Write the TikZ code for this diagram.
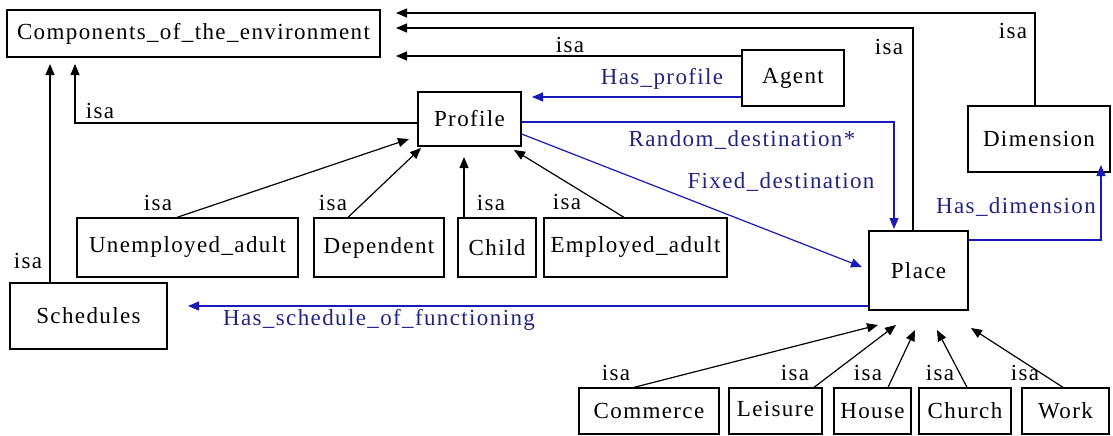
\documentclass[tikz,border=0pt]{standalone}
\usepackage{fontspec}
\setmainfont{Liberation Serif}[LetterSpace=6]
\usetikzlibrary{arrows.meta}
\definecolor{lnblue}{RGB}{25,25,185}
\definecolor{txblue}{RGB}{35,35,130}
\begin{document}
\begin{tikzpicture}[x=1pt,y=-1pt,
  every node/.style={font=\fontsize{23}{27}\selectfont},
  box/.style={draw, line width=1.3pt, inner sep=0pt, anchor=center},
  isaline/.style={line width=1.2pt, -{Triangle[length=11pt,width=9pt]}},
  relline/.style={lnblue, line width=1.2pt, -{Triangle[length=11pt,width=9pt]}},
  lbl/.style={inner sep=0pt, anchor=center},
  rlbl/.style={inner sep=0pt, anchor=center, text=txblue}]
\useasboundingbox (0,0) rectangle (1113,436);
% boxes
\node[box, minimum width=373pt, minimum height=47pt] (comp) at (193.5,33.5) {Components\_of\_the\_environment};
\node[box, minimum width=103pt, minimum height=54pt] (prof) at (469.5,119) {Profile};
\node[box, minimum width=102pt, minimum height=56pt] (agent) at (793,78) {Agent};
\node[box, minimum width=142pt, minimum height=66pt] (dim) at (1039,139) {Dimension};
\node[box, minimum width=99pt, minimum height=79pt] (place) at (918.5,270.5) {Place};
\node[box, minimum width=221pt, minimum height=59pt] (unemp) at (187.5,247.5) {Unemployed\_adult};
\node[box, minimum width=130pt, minimum height=59pt] (dep) at (379,247.5) {Dependent};
\node[box, minimum width=78pt, minimum height=59pt] (child) at (497,247.5) {Child};
\node[box, minimum width=183pt, minimum height=59pt] (emp) at (635.5,247.5) {Employed\_adult};
\node[box, minimum width=157pt, minimum height=66pt] (sched) at (88.5,316) {Schedules};
\node[box, minimum width=140pt, minimum height=46pt] (comm) at (649,411) {Commerce};
\node[box, minimum width=93pt, minimum height=46pt] (leis) at (775.5,411) {\raisebox{5pt}{Leisure}};
\node[box, minimum width=77pt, minimum height=46pt] (house) at (872.5,411) {House};
\node[box, minimum width=92pt, minimum height=46pt] (church) at (965,411) {Church};
\node[box, minimum width=87pt, minimum height=46pt] (work) at (1065.5,411) {Work};
% tips
\coordinate (tA) at (396,13);
\coordinate (tB) at (396,28);
\coordinate (tC) at (396,56);
\coordinate (tD) at (75,64);
\coordinate (tE) at (50,64);
\coordinate (tHP) at (532,97);
\coordinate (tRD) at (894,229);
\coordinate (tFD) at (862,267);
\coordinate (tHD) at (1101,165);
\coordinate (tHS) at (188,306);
\coordinate (tU) at (409,139);
\coordinate (tDp) at (421,148);
\coordinate (tCh) at (464,157);
\coordinate (tEm) at (514,150);
\coordinate (t1) at (878,325);
\coordinate (t2) at (896,325);
\coordinate (t3) at (915,330);
\coordinate (t4) at (937,330);
\coordinate (t5) at (971,328);
% isa to Components
\draw[isaline] (dim.north -| 1035,0) |- (tA);
\node[lbl] at (1013,31) {isa};
\draw[isaline] (place.north -| 913,0) |- (tB);
\node[lbl] at (889,47) {isa};
\draw[isaline] (agent.west |- 0,56) -- (tC);
\node[lbl] at (570,45) {isa};
\draw[isaline] (prof.west |- 0,123) -| (tD);
\node[lbl] at (100,111) {isa};
\draw[isaline] (sched.north -| 50,0) -- (tE);
\node[lbl] at (28,261) {isa};
% relations
\draw[relline] (agent.west |- 0,97) -- (tHP);
\node[rlbl] at (662,79) {Has\_profile};
\draw[relline] (prof.east |- 0,122) -| (tRD);
\node[rlbl] at (742,140) {Random\_destination*};
\draw[relline] (prof.east |- 0,134) -- (tFD);
\node[rlbl] at (781,182) {Fixed\_destination};
\draw[relline] (place.east |- 0,240) -| (tHD);
\node[rlbl] at (1016,207) {Has\_dimension};
\draw[relline] (place.west |- 0,306) -- (tHS);
\node[rlbl] at (379,320) {Has\_schedule\_of\_functioning};
% profile subclasses
\draw[isaline] (unemp.north -| 177,0) -- (tU);
\node[lbl] at (158,203) {isa};
\draw[isaline] (dep.north -| 348,0) -- (tDp);
\node[lbl] at (333,203) {isa};
\draw[isaline] (child.north -| 464,0) -- (tCh);
\node[lbl] at (491,203) {isa};
\draw[isaline] (emp.north -| 624,0) -- (tEm);
\node[lbl] at (567,202) {isa};
% place subclasses
\draw[isaline] (comm.north -| 634,0) -- (t1);
\node[lbl] at (616,373) {isa};
\draw[isaline] (leis.north -| 814,0) -- (t2);
\node[lbl] at (795,373) {isa};
\draw[isaline] (house.north -| 888,0) -- (t3);
\node[lbl] at (868,373) {isa};
\draw[isaline] (church.north -| 967,0) -- (t4);
\node[lbl] at (940,373) {isa};
\draw[isaline] (work.north -| 1063,0) -- (t5);
\node[lbl] at (1025,373) {isa};
\end{tikzpicture}
\end{document}
